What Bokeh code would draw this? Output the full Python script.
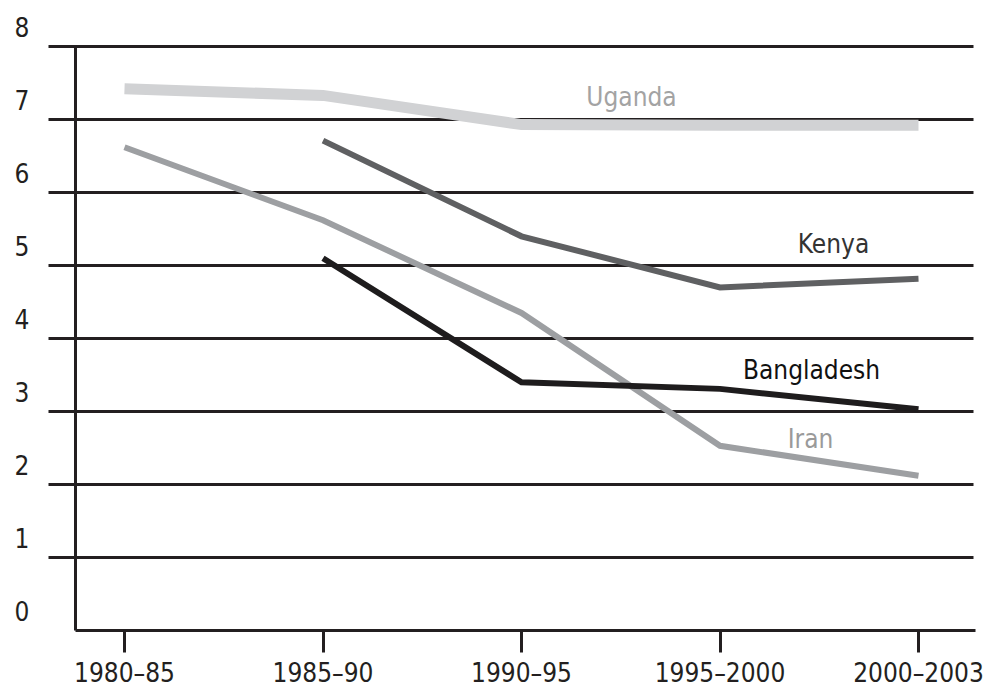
from bokeh.plotting import figure
from bokeh.models import Range1d, LinearAxis, FixedTicker, ColumnDataSource
from bokeh.core.properties import value
from bokeh.embed import file_html
from bokeh.resources import INLINE

# ---------------- data ----------------
periods = ["1980–85", "1985–90", "1990–95", "1995–2000", "2000–2003"]
y_ticks = [0, 1, 2, 3, 4, 5, 6, 7, 8]

uganda = [7.42, 7.33, 6.93, 6.92, 6.92]
kenya = [None, 6.71, 5.40, 4.70, 4.82]
bangladesh = [None, 5.10, 3.40, 3.31, 3.03]
iran = [6.62, 5.62, 4.35, 2.53, 2.12]

series_names = ["Uganda", "Kenya", "Bangladesh", "Iran"]

# ---------------- layout (pixel geometry -> data units) ----------------
W, H = 984, 687          # figure size
PX0, PY0 = 0, 0          # observed page offset of figure
X_ORIGIN_PX, X_STEP_PX = 124, 198.5   # page x of index 0 and step per category
Y_ZERO_PX, Y_UNIT_PX = 630, 73        # page y of value 0 and px per unit


def xd(px):
    return (px - X_ORIGIN_PX) / X_STEP_PX


def yd(py):
    return (Y_ZERO_PX - py) / Y_UNIT_PX


x_start, x_end = xd(PX0), xd(PX0 + W)
y_start, y_end = yd(PY0 + H), yd(PY0)

FONT = "DejaVu Sans Condensed"
INK = "#231f20"

p = figure(width=W, height=H, output_backend="svg", toolbar_location=None,
           x_axis_location=None, y_axis_location=None,
           x_range=Range1d(x_start, x_end), y_range=Range1d(y_start, y_end),
           min_border=0, min_border_left=0, min_border_right=0,
           min_border_top=0, min_border_bottom=0)
p.outline_line_color = None
p.xgrid.visible = False
p.ygrid.visible = False
p.background_fill_color = "white"
p.border_fill_color = "white"

# horizontal rules at 1..8
grid_vals = y_ticks[1:]
p.segment(x0=[xd(48)] * len(grid_vals), x1=[xd(973)] * len(grid_vals),
          y0=grid_vals, y1=grid_vals, line_color=INK, line_width=3,
          line_cap="butt")

# left axis line (main range)
axis_x = xd(75)
yline = LinearAxis(fixed_location=axis_x, bounds=(0, 8),
                   ticker=FixedTicker(ticks=[]),
                   axis_line_color=INK, axis_line_width=3,
                   major_tick_line_color=None, minor_tick_line_color=None,
                   major_label_text_font_size="0px")
p.add_layout(yline, "left")

# y tick labels, set ~20px above their rules via shifted range
shift = 0.27
p.extra_y_ranges = {"lab": Range1d(y_start - shift, y_end - shift)}
ylab = LinearAxis(y_range_name="lab", fixed_location=axis_x,
                  ticker=FixedTicker(ticks=y_ticks),
                  axis_line_color=None, major_tick_line_color=None,
                  minor_tick_line_color=None, major_label_standoff=40,
                  major_label_text_font=FONT, major_label_text_font_size="26px",
                  major_label_text_color=INK)
p.add_layout(ylab, "left")

# x axis
xaxis = LinearAxis(fixed_location=0, bounds=(axis_x, xd(975)),
                   ticker=FixedTicker(ticks=list(range(len(periods)))),
                   major_label_overrides={i: s for i, s in enumerate(periods)},
                   axis_line_color=INK, axis_line_width=3,
                   major_tick_line_color=INK, major_tick_line_width=3,
                   major_tick_in=0, major_tick_out=22,
                   minor_tick_line_color=None, major_label_standoff=5,
                   major_label_text_font=FONT, major_label_text_font_size="26px",
                   major_label_text_color=INK)
p.add_layout(xaxis, "below")

xs = list(range(len(periods)))


def draw(vals, color, width):
    pts = [(x, v) for x, v in zip(xs, vals) if v is not None]
    src = ColumnDataSource(dict(x=[a for a, _ in pts], y=[b for _, b in pts]))
    p.line("x", "y", source=src, line_color=color, line_width=width,
           line_cap="butt", line_join="miter")


draw(uganda, "#d1d2d4", 11)
draw(iran, "#9d9fa2", 6)
draw(kenya, "#5f6062", 6)
draw(bangladesh, "#1e1c1d", 6)

# series labels
lab_x = [xd(631), xd(833), xd(811), xd(810)]
lab_y = [yd(96), yd(243), yd(369), yd(438)]
lab_color = ["#a3a3a3", "#333333", "#111111", "#9a9a9a"]
p.text(x=lab_x, y=lab_y, text=series_names, text_color=lab_color,
       text_font=value(FONT), text_font_size="26px",
       text_align="center", text_baseline="middle")

open("out.html", "w").write(file_html(p, INLINE))
